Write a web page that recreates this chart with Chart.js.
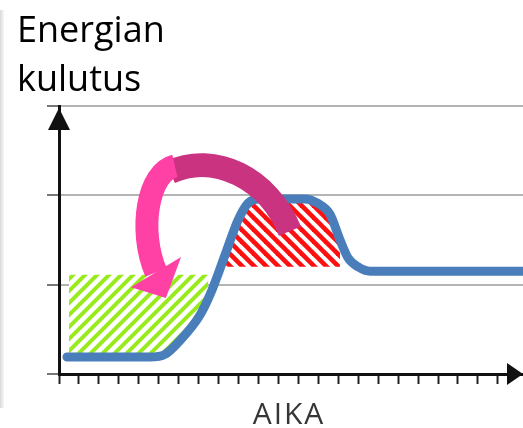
<!DOCTYPE html>
<html lang="fi">
<head>
  <meta charset="UTF-8">
  <title>Energian kulutus</title>
  <script src="https://cdn.jsdelivr.net/npm/chart.js"></script>
  <style>
    body { margin: 0; background: #fff; }
    #wrap { position: relative; width: 523px; height: 428px; overflow: hidden; }
    #chart { position: absolute; left: 0; top: 0; }
    .title { position: absolute; left: 17px; top: 4px; font-family: "Open Sans", sans-serif; font-size: 36px; line-height: 49px; color: #000; }
    .xlabel { position: absolute; left: 0; width: 578px; top: 398px; text-align: center; font-family: "Open Sans", sans-serif; font-size: 30px; line-height: 30px; color: #363636; letter-spacing: 2px; }
    .edge { position: absolute; left: 0; top: 10px; width: 4px; height: 398px; background: linear-gradient(to right, #dadada, #f7f7f7); }
  </style>
</head>
<body>
  <div id="wrap">
    <canvas id="chart" width="523" height="428"></canvas>
    <div class="edge"></div>
    <div class="title">Energian<br>kulutus</div>
    <div class="xlabel">AIKA</div>
  </div>

  <script>
    // kulutuskäyrä (aika, kulutus)
    const usageX = [0.40, 4.56, 5.31, 5.96, 7.07, 7.67, 8.32, 8.97, 9.47, 9.97, 12.33, 12.98, 13.58, 14.09, 14.49, 14.99, 15.59, 23.26];
    const usageY = [0.19, 0.19, 0.22, 0.35, 0.66, 0.94, 1.33, 1.72, 1.91, 1.96, 1.96, 1.91, 1.79, 1.50, 1.30, 1.20, 1.15, 1.15];

    // siirrettävä huippu (punainen) ja täyttö (vihreä)
    const peakX = [8.32, 14.09];
    const peakLevel = 1.20;
    const valleyX = [0.50, 7.47];
    const valleyLevel = 1.11;

    // kaareva nuoli datayksiköissä
    const arrowBack = [[11.58, 1.60], [10.48, 2.19], [7.82, 2.49], [5.56, 2.26]];
    const arrowFront = [[5.81, 2.33], [4.46, 2.26], [3.96, 1.61], [4.86, 1.14]];
    const arrowHead = [[3.61, 0.97], [6.12, 1.31], [5.36, 0.85]];

    const yMax = 3;
    const xMax = 23.26;
    const lastTick = 22;

    const toXY = (xs, ys) => xs.map((x, i) => ({ x, y: Array.isArray(ys) ? ys[i] : ys }));

    function stripes(color, dir, s, w) {
      const c = document.createElement('canvas');
      c.width = s; c.height = s;
      const g = c.getContext('2d');
      g.fillStyle = '#fff';
      g.fillRect(0, 0, s, s);
      g.strokeStyle = color;
      g.lineWidth = w;
      for (let k = -1; k <= 2; k++) {
        const c0 = k * s;
        g.beginPath();
        if (dir === '/') { g.moveTo(c0 + s, -s); g.lineTo(c0 - 2 * s, 2 * s); }
        else { g.moveTo(c0 - s, -s); g.lineTo(c0 + 2 * s, 2 * s); }
        g.stroke();
      }
      return g.createPattern(c, 'repeat');
    }

    const greenPat = stripes('#98ea1c', '/', 12, 4);
    const redPat = stripes('#ff1010', '\\', 12, 4.6);

    const decor = {
      id: 'decor',
      afterDatasetsDraw(chart) {
        const { ctx, scales: { x, y } } = chart;
        const px = p => [x.getPixelForValue(p[0]), y.getPixelForValue(p[1])];
        ctx.save();
        ctx.lineCap = 'butt';
        // takaosa
        let p = arrowBack.map(px);
        ctx.strokeStyle = '#c9337f';
        ctx.lineWidth = 24;
        ctx.beginPath();
        ctx.moveTo(p[0][0], p[0][1]);
        ctx.bezierCurveTo(p[1][0], p[1][1], p[2][0], p[2][1], p[3][0], p[3][1]);
        ctx.stroke();
        // etuosa
        p = arrowFront.map(px);
        ctx.strokeStyle = '#ff40a4';
        ctx.lineWidth = 23;
        ctx.beginPath();
        ctx.moveTo(p[0][0], p[0][1]);
        ctx.bezierCurveTo(p[1][0], p[1][1], p[2][0], p[2][1], p[3][0], p[3][1]);
        ctx.stroke();
        p = arrowHead.map(px);
        ctx.fillStyle = '#ff40a4';
        ctx.beginPath();
        ctx.moveTo(p[0][0], p[0][1]);
        ctx.lineTo(p[1][0], p[1][1]);
        ctx.lineTo(p[2][0], p[2][1]);
        ctx.closePath();
        ctx.fill();
        ctx.restore();
      },
      afterDraw(chart) {
        const { ctx, chartArea: a } = chart;
        ctx.save();
        ctx.fillStyle = '#111';
        ctx.beginPath();
        ctx.moveTo(a.left, a.top + 2);
        ctx.lineTo(a.left - 11, a.top + 24);
        ctx.lineTo(a.left + 11, a.top + 24);
        ctx.closePath();
        ctx.fill();
        ctx.beginPath();
        ctx.moveTo(a.right, a.bottom);
        ctx.lineTo(a.right - 16, a.bottom - 11);
        ctx.lineTo(a.right - 16, a.bottom + 11);
        ctx.closePath();
        ctx.fill();
        ctx.restore();
      }
    };

    new Chart(document.getElementById('chart'), {
      type: 'line',
      data: {
        datasets: [
          {
            label: 'Kulutus',
            data: toXY(usageX, usageY),
            borderColor: '#4a7ebb',
            borderWidth: 9,
            borderCapStyle: 'round',
            borderJoinStyle: 'round',
            cubicInterpolationMode: 'monotone',
            pointRadius: 0,
            fill: false
          },
          {
            label: 'Täyttö',
            data: toXY(valleyX, valleyLevel),
            borderWidth: 0,
            borderColor: 'rgba(0,0,0,0)',
            backgroundColor: greenPat,
            pointRadius: 0,
            fill: { target: 0, above: greenPat, below: greenPat }
          },
          {
            label: 'Huippu',
            data: toXY(peakX, peakLevel),
            borderWidth: 0,
            borderColor: 'rgba(0,0,0,0)',
            backgroundColor: redPat,
            pointRadius: 0,
            fill: { target: 0, above: redPat, below: redPat }
          }
        ]
      },
      options: {
        responsive: false,
        animation: false,
        devicePixelRatio: 1,
        layout: { padding: { top: 106, left: 0, right: 0, bottom: 0 } },
        plugins: {
          legend: { display: false },
          tooltip: { enabled: false },
          title: { display: false }
        },
        scales: {
          x: {
            type: 'linear',
            min: 0,
            max: xMax,
            afterFit: s => { s.height = 54; },
            ticks: { display: false, stepSize: 1, includeBounds: false },
            grid: {
              drawOnChartArea: false,
              drawTicks: true,
              tickLength: 10,
              tickWidth: 2,
              tickColor: c => (c.tick && c.tick.value <= lastTick) ? '#222' : 'rgba(0,0,0,0)'
            },
            border: { display: true, color: '#111', width: 3 }
          },
          y: {
            min: 0,
            max: yMax,
            afterFit: s => { s.width = 59; },
            ticks: { display: false, stepSize: 1 },
            grid: { color: '#b4b4b4', lineWidth: 2, drawTicks: true, tickLength: 12, tickColor: '#777' },
            border: { display: true, color: '#111', width: 3 }
          }
        }
      },
      plugins: [decor]
    });
  </script>
</body>
</html>
